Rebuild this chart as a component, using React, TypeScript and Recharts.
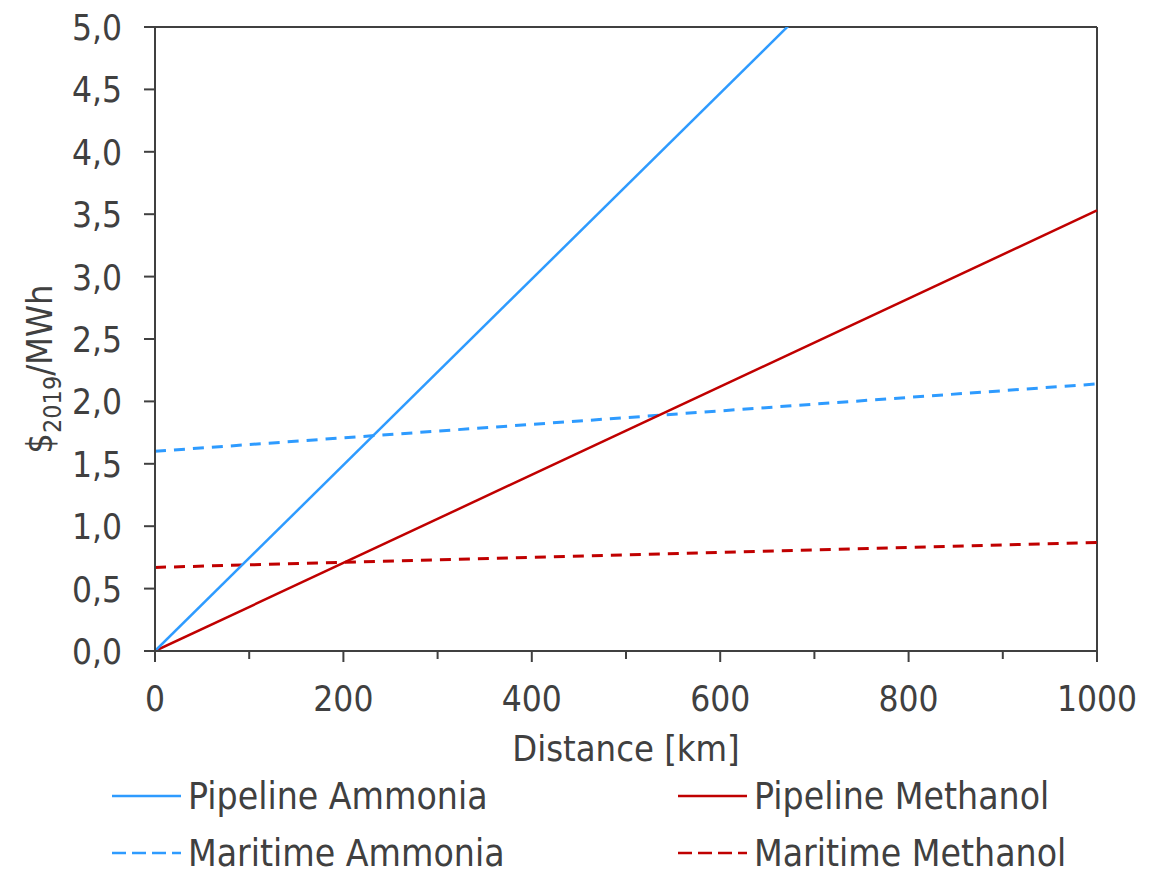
import { Line, LineChart, ReferenceLine, XAxis, YAxis } from "recharts";

const distances = [0, 1000];
const pipelineAmmonia = [0, 7.45];
const pipelineMethanol = [0, 3.53];
const maritimeAmmonia = [1.6, 2.14];
const maritimeMethanol = [0.67, 0.87];

const xTicks = [0, 100, 200, 300, 400, 500, 600, 700, 800, 900, 1000];
const yTicks = [0, 0.5, 1, 1.5, 2, 2.5, 3, 3.5, 4, 4.5, 5];

const BLUE = "#2e9bff";
const RED = "#c00000";
const INK = "#404040";
const FONT = "'DejaVu Sans Condensed', 'DejaVu Sans', sans-serif";
const TICK_FS = 35;
const LABEL_FS = 36;
const LEGEND_FS = 37;

const data = distances.map((d, i) => ({
  distance: d,
  pipeAmm: pipelineAmmonia[i],
  pipeMeth: pipelineMethanol[i],
  marAmm: maritimeAmmonia[i],
  marMeth: maritimeMethanol[i],
}));

const legendItems = [
  { name: "Pipeline Ammonia", color: BLUE, dash: undefined, col: 0, row: 0 },
  { name: "Pipeline Methanol", color: RED, dash: undefined, col: 1, row: 0 },
  { name: "Maritime Ammonia", color: BLUE, dash: "14 6", col: 0, row: 1 },
  { name: "Maritime Methanol", color: RED, dash: "14 6", col: 1, row: 1 },
];

function XTick({ x, y, payload }: any) {
  const major = payload.value % 200 === 0;
  return (
    <g>
      <line x1={x} x2={x} y1={y} y2={y + (major ? 11 : 8)} stroke={INK} strokeWidth={2} />
      {major && (
        <text x={x} y={y + 60} textAnchor="middle" fill={INK} fontSize={TICK_FS} fontFamily={FONT}>
          {payload.value}
        </text>
      )}
    </g>
  );
}

function YTick({ x, y, payload }: any) {
  return (
    <g>
      <line x1={x - 11} x2={x} y1={y} y2={y} stroke={INK} strokeWidth={2} />
      <text x={x - 33} y={y + 13} textAnchor="end" fill={INK} fontSize={TICK_FS} fontFamily={FONT}>
        {payload.value.toFixed(1).replace(".", ",")}
      </text>
    </g>
  );
}

function ChartLegend() {
  return (
    <svg width={1160} height={120} style={{ position: "absolute", top: 752, left: 0 }}>
      {legendItems.map((it) => {
        const lx = it.col === 0 ? 104 : 670;
        const ly = it.row === 0 ? 36 : 93;
        return (
          <g key={it.name}>
            <line x1={lx} x2={lx + 69} y1={ly} y2={ly} stroke={it.color} strokeWidth={2.5} strokeDasharray={it.dash} />
            <text x={lx + 76} y={ly + 13} fill={INK} fontSize={LEGEND_FS} fontFamily={FONT}>
              {it.name}
            </text>
          </g>
        );
      })}
    </svg>
  );
}

export default function App() {
  return (
    <div style={{ position: "relative", width: 1160, height: 866 }}>
      <LineChart width={1160} height={866} data={data} margin={{ top: 19, right: 71, left: 17, bottom: 93 }}>
        <XAxis
          dataKey="distance"
          type="number"
          domain={[0, 1000]}
          ticks={xTicks}
          interval={0}
          tickSize={0}
          tickMargin={0}
          tickLine={false}
          tick={<XTick />}
          height={130}
          axisLine={{ stroke: INK, strokeWidth: 2 }}
          label={({ viewBox }: any) => (
            <text
              x={viewBox.x + viewBox.width / 2}
              y={viewBox.y + 110}
              textAnchor="middle"
              fill={INK}
              fontSize={LABEL_FS}
              fontFamily={FONT}
            >
              Distance [km]
            </text>
          )}
        />
        <YAxis
          type="number"
          domain={[0, 5]}
          ticks={yTicks}
          interval={0}
          allowDataOverflow
          tickSize={0}
          tickMargin={0}
          tickLine={false}
          tick={<YTick />}
          width={130}
          axisLine={{ stroke: INK, strokeWidth: 2 }}
          label={({ viewBox }: any) => {
            const cx = 44;
            const cy = viewBox.y + viewBox.height / 2 + 30;
            return (
              <text
                x={cx}
                y={cy}
                transform={`rotate(-90 ${cx} ${cy})`}
                textAnchor="middle"
                fill={INK}
                fontSize={LABEL_FS}
                fontFamily={FONT}
              >
                $<tspan fontSize={25} dy={9}>2019</tspan>
                <tspan dy={-9}>/MWh</tspan>
              </text>
            );
          }}
        />
        <ReferenceLine y={5} stroke={INK} strokeWidth={2} />
        <ReferenceLine x={1000} stroke={INK} strokeWidth={2} />
        <Line dataKey="marAmm" stroke={BLUE} strokeWidth={3} strokeDasharray="11 8" dot={false} isAnimationActive={false} />
        <Line dataKey="marMeth" stroke={RED} strokeWidth={3} strokeDasharray="11 8" dot={false} isAnimationActive={false} />
        <Line dataKey="pipeMeth" stroke={RED} strokeWidth={2.5} dot={false} isAnimationActive={false} />
        <Line dataKey="pipeAmm" stroke={BLUE} strokeWidth={2.5} dot={false} isAnimationActive={false} />
      </LineChart>
      <ChartLegend />
    </div>
  );
}
